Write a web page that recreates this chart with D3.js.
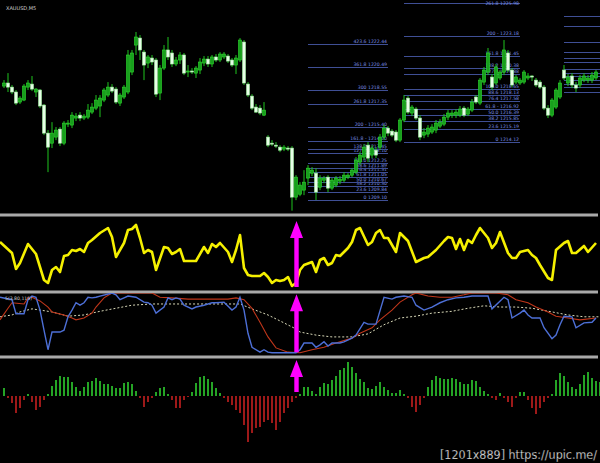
<!DOCTYPE html>
<html><head><meta charset="utf-8">
<script src="https://cdn.jsdelivr.net/npm/d3@7"></script>
<style>html,body{margin:0;padding:0;background:#000;overflow:hidden}</style>
</head><body>
<svg id="c" width="600" height="463"></svg>
<script>
// ---------- DATA ----------
const chartTitle = "XAUUSD,M5";
const stochTitle = "5(3,80,115)";
const watermark = "[1201x889] https://upic.me/";
// candles: [open, high, low, close]
const candles = [
[1218.87,1219.38,1218.70,1219.13],[1219.13,1219.98,1218.36,1218.78],[1218.78,1218.96,1218.18,1218.36],[1218.36,1218.53,1217.24,1217.41],
[1217.50,1218.01,1217.33,1217.84],[1217.67,1219.04,1217.58,1218.87],[1218.78,1219.38,1218.53,1219.13],[1219.04,1219.73,1218.44,1218.61],
[1218.36,1218.70,1217.93,1218.61],[1218.53,1218.61,1216.98,1217.16],[1217.24,1217.33,1214.67,1214.84],[1214.84,1215.10,1211.50,1213.64],
[1213.98,1215.78,1213.56,1214.84],[1214.50,1215.36,1214.24,1215.10],[1215.18,1215.36,1213.73,1213.98],[1213.98,1215.87,1213.81,1215.70],
[1215.61,1215.96,1215.36,1215.70],[1215.53,1216.64,1215.27,1216.38],[1216.13,1216.56,1215.87,1216.30],[1216.38,1216.64,1215.87,1216.13],
[1216.13,1216.47,1215.96,1216.30],[1216.21,1217.33,1216.04,1216.81],[1216.64,1217.41,1216.47,1217.07],[1216.98,1218.10,1216.81,1217.67],
[1217.16,1218.10,1216.21,1217.84],[1217.67,1218.70,1217.50,1218.53],[1218.10,1219.21,1217.93,1218.78],[1218.78,1219.04,1218.27,1218.44],
[1218.61,1218.78,1217.33,1217.50],[1217.41,1218.27,1217.16,1218.10],[1217.93,1218.96,1217.76,1218.78],[1218.36,1221.96,1218.18,1221.53],
[1220.07,1221.96,1219.81,1221.70],[1222.38,1223.50,1221.53,1223.07],[1222.98,1223.24,1221.10,1221.96],[1221.78,1221.96,1219.38,1220.67],
[1220.84,1221.53,1220.41,1221.36],[1221.27,1221.53,1220.67,1220.93],[1221.10,1221.27,1217.93,1218.18],[1218.27,1220.67,1217.67,1220.41],
[1220.41,1222.38,1220.24,1221.96],[1221.96,1223.07,1221.10,1221.36],[1221.70,1221.96,1220.50,1220.76],[1220.76,1221.36,1220.58,1221.10],
[1221.10,1221.78,1220.76,1221.53],[1221.53,1221.70,1219.81,1219.98],[1220.07,1220.67,1219.64,1220.16],[1220.16,1220.41,1219.90,1220.07],
[1219.98,1220.58,1219.56,1220.41],[1220.24,1221.27,1219.90,1220.93],[1220.84,1221.44,1220.58,1221.18],[1221.18,1221.44,1220.50,1220.76],
[1220.76,1221.53,1220.50,1221.36],[1221.36,1221.61,1220.93,1221.10],[1221.10,1221.78,1220.93,1221.61],[1221.36,1221.78,1221.18,1221.61],
[1221.44,1221.61,1220.84,1221.01],[1221.10,1221.27,1220.50,1220.67],[1220.67,1221.53,1219.90,1221.27],[1221.10,1222.98,1220.93,1222.81],
[1222.64,1222.81,1218.96,1219.13],[1219.04,1219.21,1217.93,1218.10],[1218.01,1218.18,1216.81,1216.98],[1217.07,1217.33,1216.56,1216.64],
[1216.98,1217.24,1216.38,1216.56],[1216.38,1217.50,1216.30,1216.81],[1214.50,1214.67,1213.64,1213.81],[1213.98,1214.24,1213.73,1213.90],
[1213.81,1214.07,1213.56,1213.73],[1213.64,1213.81,1213.21,1213.38],[1213.47,1213.81,1213.30,1213.64],[1213.56,1213.73,1213.30,1213.47],
[1213.56,1213.73,1208.20,1209.36],[1209.36,1211.24,1209.10,1211.07],[1209.61,1210.64,1209.44,1210.39],[1209.96,1211.67,1209.53,1210.64],
[1210.99,1212.10,1210.39,1211.84],[1211.41,1211.93,1211.16,1211.67],[1211.41,1211.84,1209.10,1209.79],[1210.21,1211.24,1209.96,1210.99],
[1210.81,1211.16,1210.56,1210.99],[1211.07,1211.24,1209.79,1210.13],[1210.13,1210.99,1209.96,1210.81],[1210.39,1211.16,1210.21,1210.99],
[1210.73,1211.16,1210.47,1210.90],[1210.81,1211.50,1210.64,1211.24],[1211.07,1211.41,1210.90,1211.24],[1211.24,1211.84,1211.07,1211.67],
[1211.50,1212.79,1211.33,1212.53],[1212.36,1213.21,1212.10,1212.96],[1212.79,1213.90,1212.53,1213.64],[1213.81,1214.07,1212.36,1212.70],
[1212.96,1213.81,1212.70,1213.56],[1213.38,1213.64,1212.70,1212.96],[1213.64,1214.76,1213.38,1214.50],[1214.50,1215.53,1214.24,1215.27],
[1215.27,1215.44,1214.58,1214.84],[1215.01,1215.18,1214.50,1214.67],[1214.93,1215.10,1214.07,1214.24],[1214.24,1216.13,1214.07,1215.96],
[1215.96,1218.10,1215.78,1217.67],[1217.84,1218.01,1216.47,1216.64],[1216.56,1217.24,1216.30,1217.07],[1216.90,1217.07,1215.96,1216.13],
[1216.13,1216.38,1214.24,1214.50],[1214.67,1215.27,1214.41,1214.93],[1214.76,1215.53,1214.50,1215.27],[1214.93,1215.61,1214.76,1215.36],
[1215.10,1215.96,1214.84,1215.70],[1215.44,1216.04,1215.27,1215.78],[1215.61,1216.47,1215.44,1216.21],[1216.21,1216.81,1215.96,1216.56],
[1216.38,1216.81,1216.13,1216.56],[1216.38,1216.90,1216.13,1216.64],[1216.38,1217.16,1216.21,1216.90],[1216.98,1217.16,1216.21,1216.38],
[1216.47,1217.07,1216.30,1216.90],[1216.81,1217.76,1216.64,1217.50],[1217.93,1218.10,1217.33,1217.50],[1217.41,1219.56,1217.24,1219.38],
[1219.21,1220.50,1218.96,1220.24],[1220.07,1222.13,1219.81,1221.70],[1219.64,1219.90,1218.53,1218.78],[1219.13,1220.76,1218.96,1220.50],
[1219.56,1220.24,1219.38,1220.07],[1220.07,1222.81,1219.81,1221.96],[1221.70,1221.96,1220.07,1220.24],[1220.24,1220.41,1218.78,1218.96],
[1219.21,1219.81,1219.04,1219.64],[1219.13,1219.56,1218.96,1219.38],[1219.21,1220.24,1219.04,1220.07],[1219.56,1219.98,1219.38,1219.73],
[1219.73,1219.81,1219.30,1219.64],[1219.38,1219.56,1218.78,1218.96],[1219.21,1219.38,1218.61,1218.78],[1218.78,1218.96,1216.81,1216.98],
[1216.98,1217.24,1216.13,1216.38],[1216.38,1217.84,1216.21,1217.67],[1217.07,1218.70,1216.90,1218.53],[1217.93,1219.38,1217.76,1219.13],
[1220.24,1220.67,1219.38,1219.56],[1219.13,1219.90,1218.87,1219.64],[1219.73,1219.98,1218.70,1218.96],[1218.96,1219.21,1218.36,1218.70],
[1218.96,1219.81,1218.70,1219.56],[1219.38,1219.98,1219.21,1219.73],[1219.38,1219.81,1219.13,1219.56],[1219.38,1220.07,1219.13,1219.81],
[1219.56,1220.24,1219.38,1220.07]
];
// Fibonacci sets
const fib1Levels = ["0","23.6","38.2","50.0","61.8","76.4","88.6","100.0","127.2","138.2","161.8 -","200 -","261.8","300","361.8","423.6"];
const fib1Prices = [1209.10,1209.84,1210.30,1210.67,1211.05,1211.51,1211.89,1212.25,1213.10,1213.45,1214.20,1215.40,1217.35,1218.55,1220.49,1222.44];
const fib1Bars = [76, 96];
const fib2Levels = ["0","23.6","38.2","50.0","61.8 -","76.4","88.6","100.0","127.2","138.2","161.8","200 -","261.8"];
const fib2Prices = [1214.12,1215.19,1215.85,1216.39,1216.92,1217.58,1218.13,1218.65,1219.88,1220.38,1221.45,1223.18,1225.98];
const fib2Bars = [100, 129];
const fib3Prices = [1224.87,1224.01,1222.64,1221.78,1221.27,1220.93,1220.33,1219.98,1219.73,1219.38,1219.04,1218.78,1218.36];
const fib3Bars = [140, 149];
// yellow oscillator [bar, value]
const oscYellow = [[-1,65],[2,54],[3,38],[4,44],[6,63],[8,53],[10,27],[11,24],[12,37],[13,40],[14,35],[15,51],[16,52],[17,57],[18,56],[19,58],[20,55],[21,64],[22,67],[24,74],[26,79],[27,70],[28,50],[30,64],[31,77],[32,78],[33,82],[34,69],[35,54],[36,57],[37,55],[38,37],[40,60],[41,59],[42,53],[43,55],[44,58],[45,46],[47,46],[48,46],[50,60],[51,54],[52,63],[53,60],[54,64],[56,55],[57,45],[58,57],[59,72],[60,39],[61,32],[62,31],[64,31],[65,34],[66,30],[67,24],[68,27],[69,26],[70,27],[71,30],[72,21],[73,24],[74,37],[75,42],[77,45],[78,35],[79,47],[80,49],[81,42],[82,44],[83,52],[84,51],[85,55],[86,59],[87,65],[88,77],[89,79],[91,62],[92,65],[93,74],[94,77],[95,69],[96,69],[98,55],[99,74],[101,66],[103,45],[105,49],[106,50],[108,57],[110,66],[111,70],[112,69],[113,58],[114,68],[115,57],[116,67],[117,64],[118,72],[119,79],[121,69],[122,59],[123,64],[124,75],[126,54],[127,49],[128,49],[129,55],[131,57],[132,52],[133,49],[134,42],[136,29],[137,27],[138,57],[140,64],[141,66],[142,54],[143,54],[145,61],[146,55],[148,64]];
// stochastic lines [bar, value]
const stochMain = [[-1,93],[2,89],[3,66],[5,66],[6,89],[7,95],[8,93],[9,72],[10,39],[11,7],[12,36],[14,36],[15,39],[16,61],[17,72],[18,84],[19,80],[20,84],[21,93],[22,92],[23,93],[24,95],[27,100],[28,97],[29,89],[30,92],[31,95],[33,93],[35,85],[36,84],[37,80],[38,67],[40,77],[41,92],[42,89],[43,92],[44,90],[45,80],[47,74],[48,77],[50,80],[52,84],[53,84],[55,85],[57,72],[58,77],[59,93],[60,72],[61,34],[62,11],[64,3],[65,7],[66,3],[67,2],[69,2],[73,2],[74,7],[75,18],[77,18],[78,11],[79,15],[80,20],[81,13],[82,18],[84,18],[85,20],[87,26],[88,31],[90,52],[91,49],[93,49],[95,93],[97,90],[98,93],[100,95],[102,93],[103,80],[105,72],[107,77],[109,84],[111,89],[113,92],[115,93],[117,95],[119,95],[121,95],[122,74],[125,93],[126,89],[127,59],[129,67],[130,72],[131,64],[132,59],[134,59],[135,43],[137,25],[138,31],[139,48],[140,62],[142,61],[143,43],[145,51],[147,52],[148,59]];
const stochSignal = [[-1,56],[1,75],[2,84],[5,82],[6,92],[7,93],[9,87],[11,77],[12,69],[15,64],[17,59],[18,56],[20,59],[22,67],[23,77],[25,92],[27,100],[37,100],[39,93],[42,92],[46,90],[51,90],[56,90],[58,92],[60,89],[62,75],[64,52],[66,28],[68,10],[71,3],[74,2],[77,7],[80,11],[83,18],[87,26],[89,34],[92,43],[94,56],[97,72],[99,85],[102,97],[103,100],[106,95],[109,93],[112,93],[115,97],[117,100],[123,100],[126,97],[128,89],[131,84],[133,77],[136,69],[138,62],[141,59],[144,56],[148,59]];
const stochSlow = [[-1,61],[2,64],[4,69],[7,74],[12,69],[16,62],[20,64],[24,70],[28,75],[32,80],[37,82],[46,82],[56,82],[59,82],[62,74],[66,64],[70,51],[73,41],[74,36],[78,31],[82,28],[87,28],[91,33],[95,48],[99,59],[103,62],[107,67],[112,70],[116,75],[120,79],[124,77],[128,77],[132,75],[137,69],[141,64],[145,61],[149,61]];
// histogram per bar
const histValues = [8,-2,-7,-17,-12,-4,2,-6,-14,-11,-4,2,10,16,20,19,19,14,9,5,9,14,15,18,15,12,12,10,8,8,13,14,12,5,-2,-11,-6,-2,4,8,9,2,-4,-12,-12,-4,-1,4,13,19,20,17,14,8,3,-2,-6,-9,-14,-17,-29,-46,-37,-32,-31,-26,-24,-27,-34,-26,-17,-12,-6,-2,2,9,9,5,2,9,13,12,16,20,26,28,34,29,23,17,14,8,7,10,14,9,6,3,3,6,2,-2,-11,-16,-9,-2,9,16,20,18,17,17,18,17,14,12,12,16,15,9,5,2,-2,-4,3,-2,-6,-11,-2,4,4,-4,-12,-18,-12,-6,-2,2,16,23,20,14,9,7,12,21,24,18,15,14];
// signal arrows (bar, from value -> to value in each panel)
const arrowBar = 73;
const arrowYellow = [20, 86];
const arrowStoch = [3, 98];
const arrowHist = [4, 36];

// ---------- DRAW ----------
const svg = d3.select("#c");
svg.append("rect").attr("width",600).attr("height",463).attr("fill","#000");

const x = d3.scaleLinear().domain([0,149]).range([4,600]);
const yP = d3.scaleLinear().domain([1208.0,1226.24]).range([213,0]);
const yO = d3.scaleLinear().domain([15,90]).range([292,217]);
const yS = d3.scaleLinear().domain([0,100]).range([354,293]);
const yH = d3.scaleLinear().domain([-50,50]).range([446,346]);

const defs = svg.append("defs");
function clip(id,y0,y1){defs.append("clipPath").attr("id",id).append("rect").attr("x",0).attr("y",y0).attr("width",600).attr("height",y1-y0);}
clip("cpP",0,214); clip("cpO",217,291); clip("cpS",293,356); clip("cpH",358,463);

// Fibonacci lines
const fibG = svg.append("g").attr("clip-path","url(#cpP)");
function fib(levels, prices, bars, withLabels){
  prices.forEach((p,k)=>{
    const ly = Math.round(yP(p));
    fibG.append("line").attr("x1",x(bars[0])).attr("x2",x(bars[1]))
      .attr("y1",ly+0.5).attr("y2",ly+0.5)
      .attr("stroke","#3f4f95").attr("stroke-width",1);
    if(withLabels){
      fibG.append("text").attr("x",x(bars[1])-1).attr("y",Math.max(ly-0.8,4.5))
        .attr("text-anchor","end").attr("font-family","DejaVu Sans").attr("font-size",4.6)
        .attr("fill","#7b8ee0").text(levels[k]+" "+p.toFixed(2));
    }
  });
}
fib(fib1Levels,fib1Prices,fib1Bars,true);
fib(fib2Levels,fib2Prices,fib2Bars,true);
fib(null,fib3Prices,fib3Bars,false);

// candles
const cg = svg.append("g").attr("clip-path","url(#cpP)");
candles.forEach((c,i)=>{
  const [o,h,l,cl]=c; const bull = cl>=o; const cx = x(i);
  cg.append("line").attr("x1",cx).attr("x2",cx).attr("y1",yP(h)).attr("y2",yP(l))
    .attr("stroke","#1fc41f").attr("stroke-width",1);
  const top = yP(Math.max(o,cl)), bot = yP(Math.min(o,cl));
  cg.append("rect").attr("x",cx-1.5).attr("y",top).attr("width",3).attr("height",Math.max(1,bot-top))
    .attr("fill",bull?"#17a01c":"#e6ffe6").attr("stroke",bull?"#30dc30":"#a6f0a6").attr("stroke-width",0.6);
});

// title
svg.append("text").attr("x",6).attr("y",10).attr("font-family","DejaVu Sans").attr("font-size",5)
  .attr("fill","#cfcfcf").text(chartTitle);

// separators
[215, 292, 357].forEach(yy=>{
  svg.append("line").attr("x1",0).attr("x2",598).attr("y1",yy).attr("y2",yy)
    .attr("stroke","#a9a9a9").attr("stroke-width",3);
});

// yellow oscillator
const lineO = d3.line().x(d=>x(d[0])).y(d=>yO(d[1]));
svg.append("path").attr("clip-path","url(#cpO)").attr("d",lineO(oscYellow))
  .attr("fill","none").attr("stroke","#f5f000").attr("stroke-width",2.6).attr("stroke-linejoin","round");

// stochastic
const lineS = d3.line().x(d=>x(d[0])).y(d=>yS(d[1]));
const sg = svg.append("g").attr("clip-path","url(#cpS)");
sg.append("path").attr("d",lineS(stochSlow)).attr("fill","none").attr("stroke","#d8d8b8")
  .attr("stroke-width",1).attr("stroke-dasharray","2,2");
sg.append("path").attr("d",lineS(stochSignal)).attr("fill","none").attr("stroke","#c0361a").attr("stroke-width",1.1);
sg.append("path").attr("d",lineS(stochMain)).attr("fill","none").attr("stroke","#4d6fd6").attr("stroke-width",1.4);
svg.append("text").attr("x",5).attr("y",300).attr("font-family","DejaVu Sans").attr("font-size",4.6)
  .attr("fill","#d0d0d0").text(stochTitle);

// histogram
const hg = svg.append("g").attr("clip-path","url(#cpH)");
histValues.forEach((v,i)=>{
  const y0 = yH(0), y1 = yH(v);
  hg.append("rect").attr("x",x(i)-0.8).attr("width",1.6)
    .attr("y",Math.min(y0,y1)).attr("height",Math.max(1,Math.abs(y1-y0)))
    .attr("fill",v>=0?"#2fcc2f":"#c42020");
});

// arrows
function arrow(sc, range){
  const cx = x(arrowBar)+0.5, yb = sc(range[0]), yt = sc(range[1]);
  const headH = 17, headW = 6.5, shaft = 2.2;
  const p = [[cx-shaft,yb],[cx-shaft,yt+headH],[cx-headW,yt+headH],[cx,yt],[cx+headW,yt+headH],[cx+shaft,yt+headH],[cx+shaft,yb]];
  svg.append("path").attr("d","M"+p.map(q=>q.join(",")).join("L")+"Z").attr("fill","#ff00ff");
}
arrow(yO, arrowYellow); arrow(yS, arrowStoch); arrow(yH, arrowHist);

// watermark
svg.append("text").attr("x",440).attr("y",459).attr("font-family","DejaVu Sans Condensed, DejaVu Sans")
  .attr("font-size",12.5).attr("fill","#ffffff").attr("textLength",157).attr("lengthAdjust","spacingAndGlyphs")
  .attr("stroke","#000").attr("stroke-width",0.3).text(watermark);
</script>
</body></html>
